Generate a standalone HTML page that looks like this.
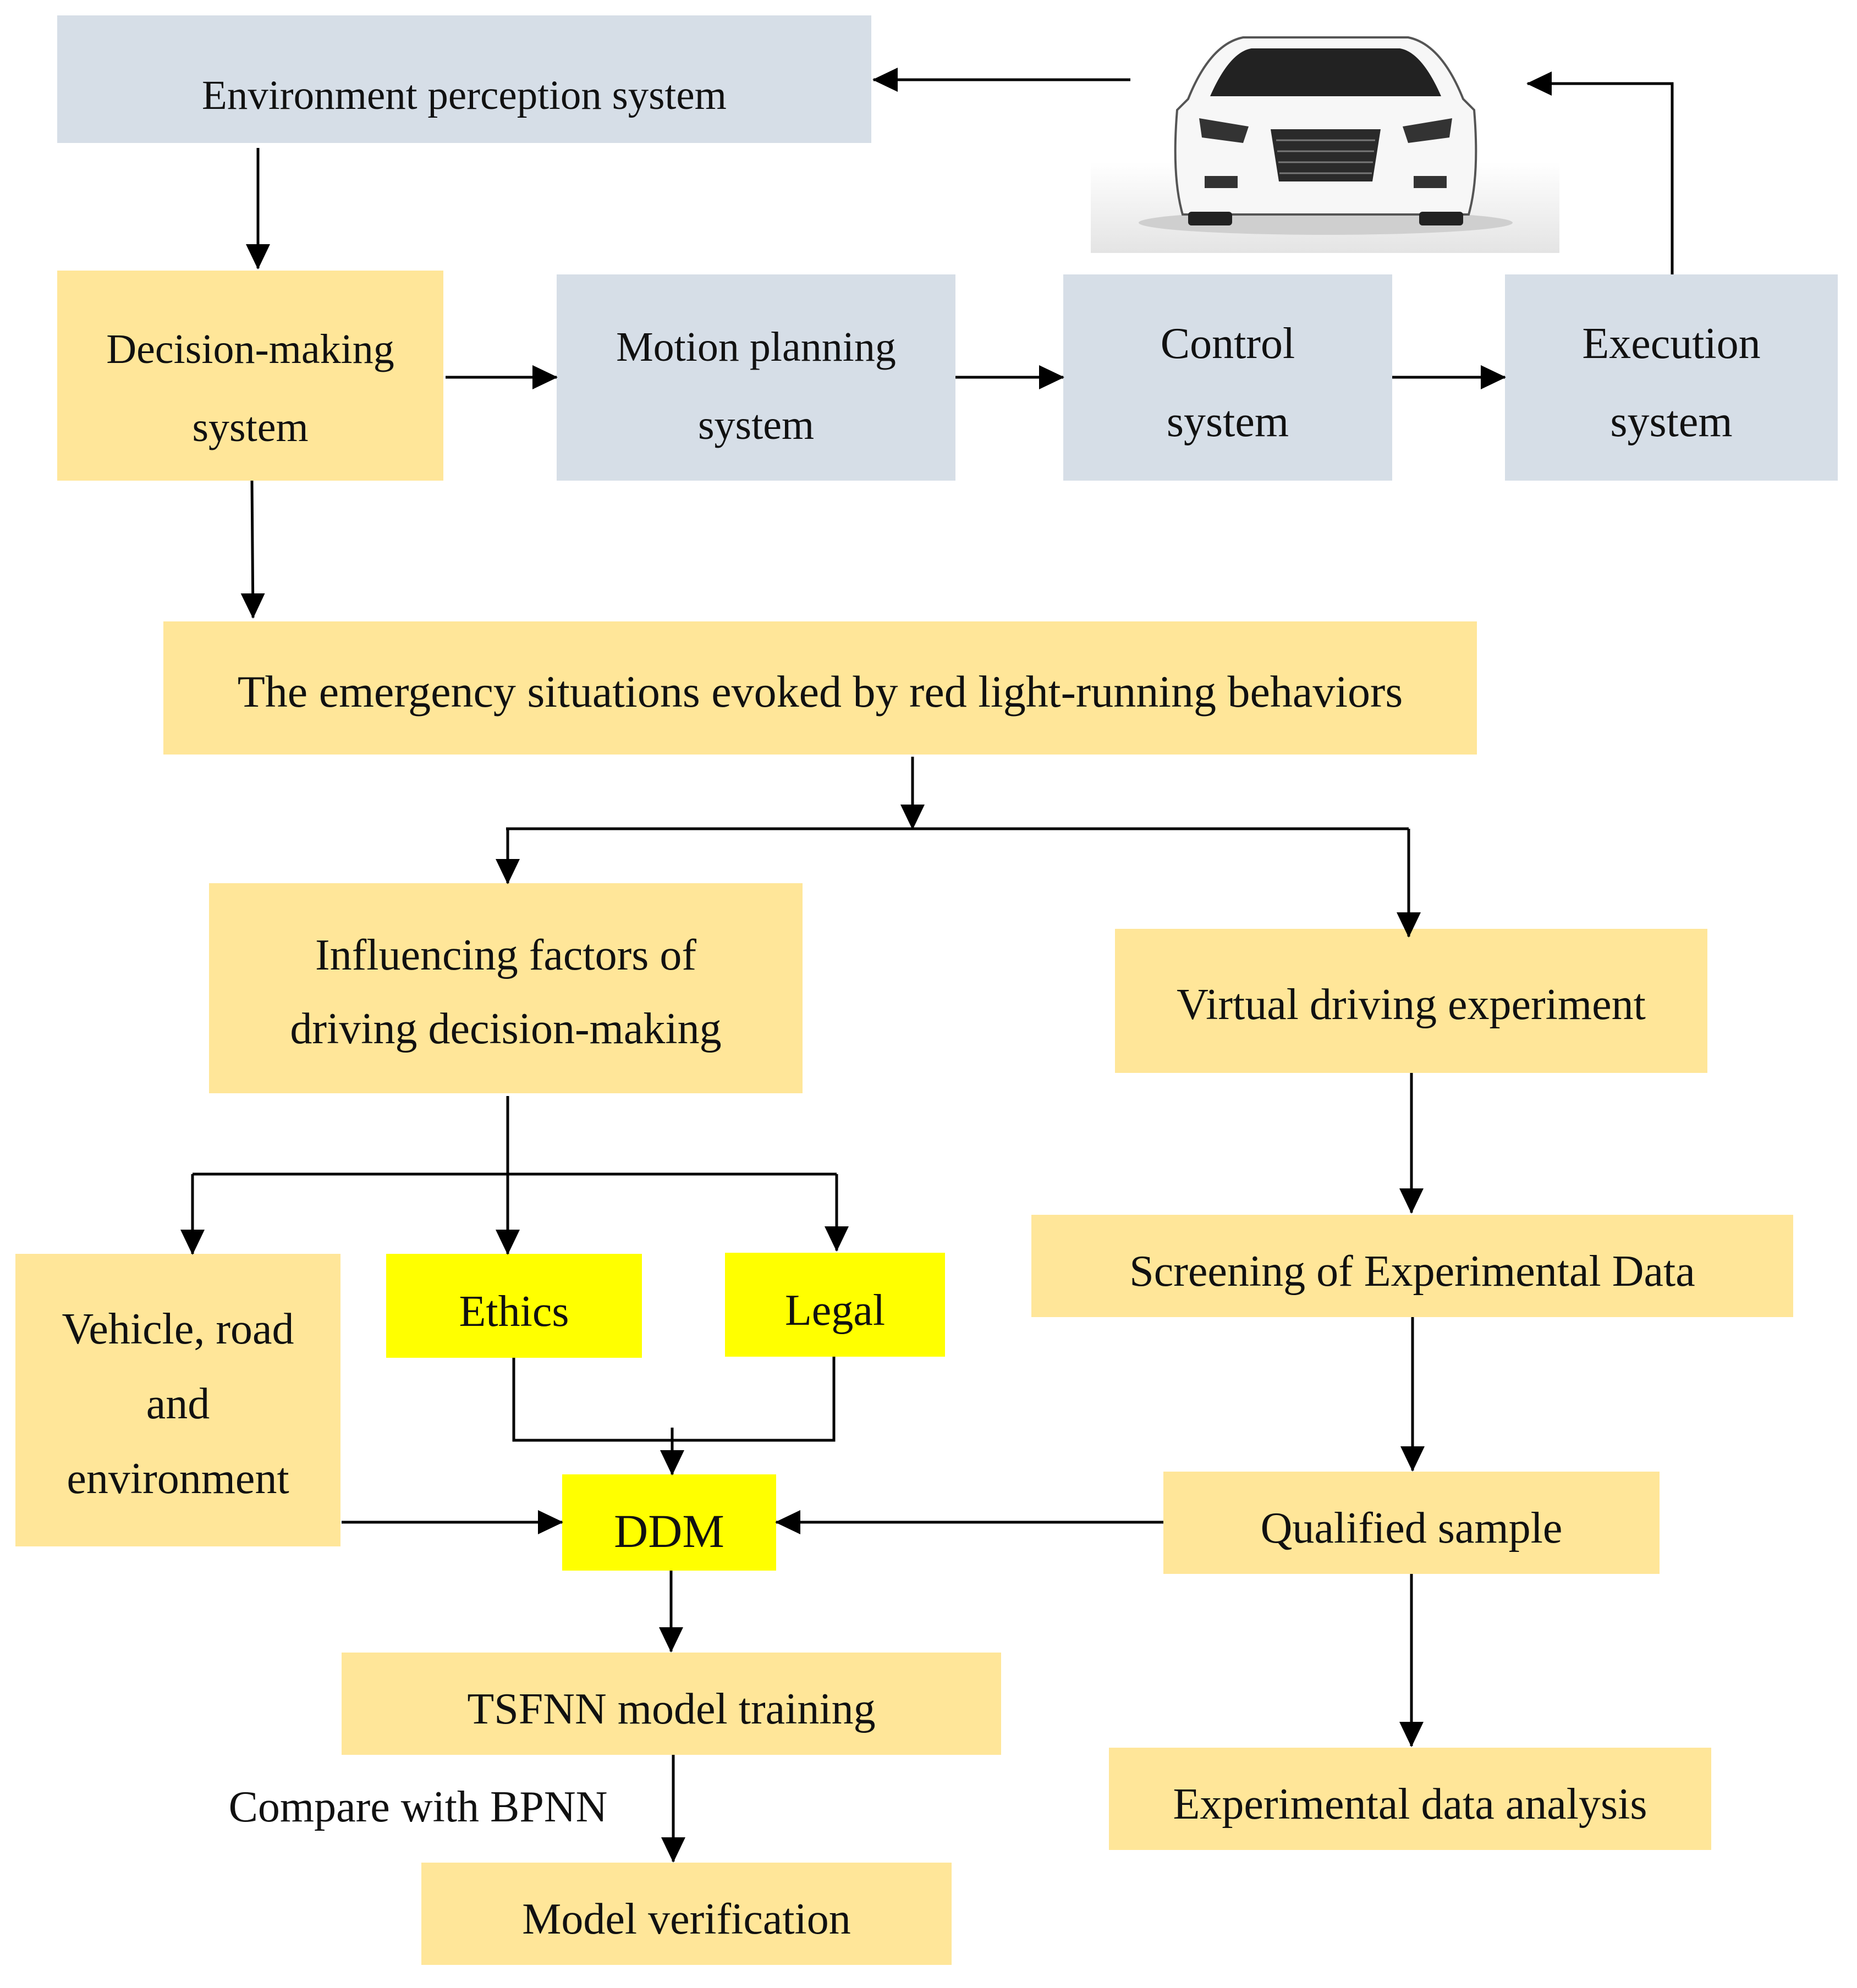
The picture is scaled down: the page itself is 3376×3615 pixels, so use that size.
<!DOCTYPE html>
<html><head><meta charset="utf-8">
<style>
html,body{margin:0;padding:0;background:#fff;}
#c{position:relative;width:3376px;height:3615px;overflow:hidden;font-family:"Liberation Serif",serif;color:#111;}
.b{position:absolute;display:flex;align-items:center;justify-content:center;text-align:center;font-size:80px;line-height:142px;box-sizing:border-box;padding-top:18px;}
.g{background:#d6dee7;}
.y{background:#ffe699;}
.Y{background:#ffff00;}
svg{position:absolute;left:0;top:0;}
</style></head><body><div id="c">
<div class="b g" style="left:104px;top:28px;width:1480px;height:232px;font-size:75px;padding-top:60px;">Environment perception system</div>
<div class="b y" style="left:104px;top:492px;width:702px;height:382px;font-size:76px;padding-top:46px;">Decision-making<br>system</div>
<div class="b g" style="left:1012px;top:499px;width:725px;height:375px;font-size:76px;padding-top:30px;">Motion planning<br>system</div>
<div class="b g" style="left:1933px;top:499px;width:598px;height:375px;">Control<br>system</div>
<div class="b g" style="left:2736px;top:499px;width:605px;height:375px;">Execution<br>system</div>
<div class="b y" style="left:297px;top:1130px;width:2388px;height:242px;font-size:82px;padding-top:14px;">The emergency situations evoked by red light-running behaviors</div>
<div class="b y" style="left:380px;top:1606px;width:1079px;height:382px;line-height:134px;padding-top:14px;">Influencing factors of<br>driving decision-making</div>
<div class="b y" style="left:2027px;top:1689px;width:1077px;height:262px;padding-top:14px;">Virtual driving experiment</div>
<div class="b y" style="left:28px;top:2280px;width:591px;height:532px;line-height:136px;padding-top:14px;">Vehicle, road<br>and<br>environment</div>
<div class="b Y" style="left:702px;top:2280px;width:465px;height:189px;padding-top:20px;">Ethics</div>
<div class="b Y" style="left:1318px;top:2278px;width:400px;height:189px;padding-top:20px;">Legal</div>
<div class="b y" style="left:1875px;top:2209px;width:1385px;height:186px;padding-top:20px;">Screening of Experimental Data</div>
<div class="b Y" style="left:1022px;top:2681px;width:389px;height:175px;font-size:86px;padding-top:30px;">DDM</div>
<div class="b y" style="left:2115px;top:2676px;width:902px;height:186px;padding-top:20px;">Qualified sample</div>
<div class="b y" style="left:621px;top:3005px;width:1199px;height:186px;padding-top:20px;">TSFNN model training</div>
<div class="b y" style="left:2016px;top:3178px;width:1095px;height:186px;padding-top:20px;">Experimental data analysis</div>
<div class="b y" style="left:766px;top:3387px;width:964px;height:186px;padding-top:20px;">Model verification</div>
<div class="b" style="left:380px;top:3220px;width:760px;height:120px;padding-top:12px;">Compare with BPNN</div>

<svg width="3376" height="3615" viewBox="0 0 3376 3615">
<defs>
<marker id="A" markerWidth="46" markerHeight="44" refX="44" refY="22" orient="auto" markerUnits="userSpaceOnUse">
<path d="M0,0 L46,22 L0,44 z" fill="#000"/>
</marker>
<linearGradient id="bg" x1="0" y1="0" x2="0" y2="1">
<stop offset="0.6" stop-color="#fff"/><stop offset="1" stop-color="#e4e4e4"/>
</linearGradient>
</defs>
<rect x="1983" y="46" width="852" height="414" fill="url(#bg)"/>
<ellipse cx="2410" cy="405" rx="340" ry="22" fill="#cfcfcf"/>
<path d="M2160,180 Q2200,80 2260,68 L2560,68 Q2620,80 2660,180 L2680,200 Q2690,320 2670,390 L2150,390 Q2130,320 2140,200 Z" fill="#f7f7f7" stroke="#555" stroke-width="4"/>
<path d="M2200,175 Q2235,95 2275,88 L2545,88 Q2585,95 2620,175 Z" fill="#222"/>
<rect x="2160" y="385" width="80" height="25" rx="6" fill="#222"/>
<rect x="2580" y="385" width="80" height="25" rx="6" fill="#222"/>
<path d="M2180,215 L2270,230 L2260,260 L2185,250 Z" fill="#333"/>
<path d="M2640,215 L2550,230 L2560,260 L2635,250 Z" fill="#333"/>
<path d="M2310,235 L2510,235 L2495,330 L2325,330 Z" fill="#2a2a2a"/>
<path d="M2320,255 L2500,255 M2322,275 L2498,275 M2324,295 L2496,295 M2326,315 L2494,315" stroke="#777" stroke-width="3"/>
<rect x="2190" y="320" width="60" height="22" fill="#333"/>
<rect x="2570" y="320" width="60" height="22" fill="#333"/>
<g stroke="#000" stroke-width="5" fill="none" marker-end="url(#A)">
<path d="M2055,145 L1588,145"/>
<path d="M3040,499 L3040,152 L2777,152"/>
<path d="M469,269 L469,488"/>
<path d="M810,686 L1012,686"/>
<path d="M1737,686 L1933,686"/>
<path d="M2531,686 L2736,686"/>
<path d="M458,874 L460,1123"/>
<path d="M1659,1376 L1659,1507"/>
<path d="M923,1507 L923,1606"/>
<path d="M2561,1507 L2561,1703"/>
<path d="M923,1993 L923,2280"/>
<path d="M350,2135 L350,2280"/>
<path d="M1521,2135 L1521,2274"/>
<path d="M1222,2596 L1222,2681"/>
<path d="M621,2768 L1022,2768"/>
<path d="M2115,2768 L1411,2768"/>
<path d="M2566,1951 L2566,2205"/>
<path d="M2568,2395 L2568,2674"/>
<path d="M2566,2862 L2566,3175"/>
<path d="M1220,2856 L1220,3003"/>
<path d="M1224,3191 L1224,3385"/>
</g>
<g stroke="#000" stroke-width="5" fill="none">
<path d="M920,1507 L2561,1507"/>
<path d="M350,2135 L1521,2135"/>
<path d="M934,2469 L934,2619 L1516,2619 L1516,2467"/>
</g>
</svg>
</div></body></html>
